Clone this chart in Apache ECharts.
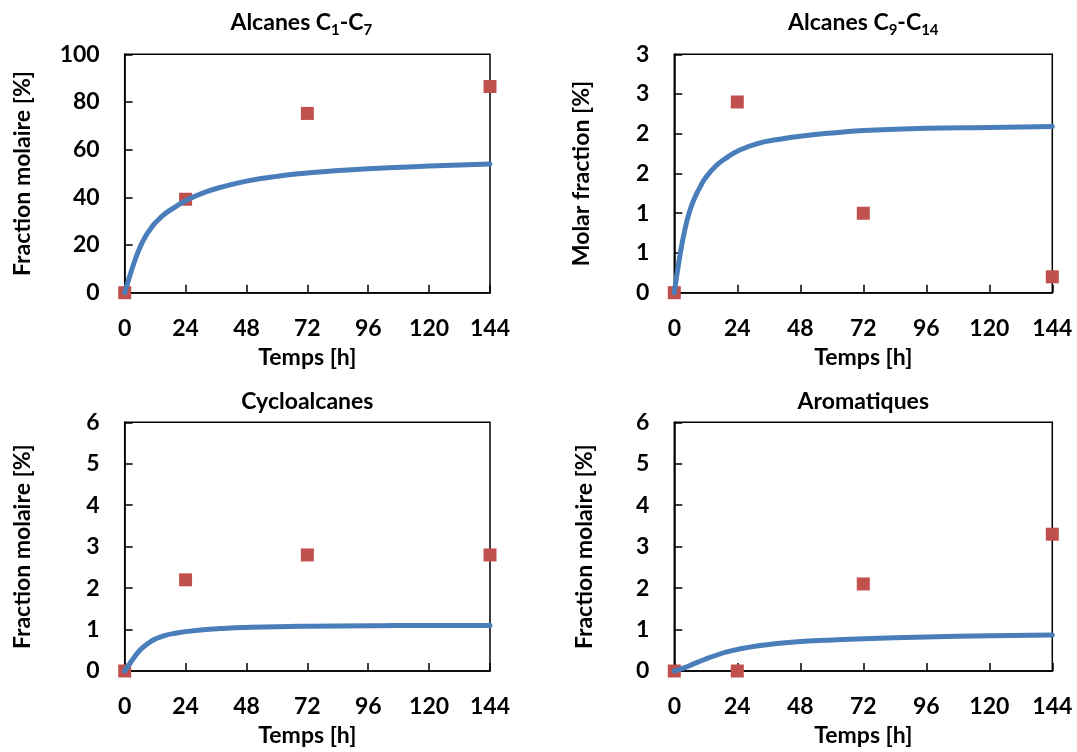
<!DOCTYPE html>
<html>
<head>
<meta charset="utf-8">
<script src="https://cdn.jsdelivr.net/npm/echarts@6/dist/echarts.min.js"></script>
<style>
html,body{margin:0;padding:0;background:#fff;}
#chart{width:1077px;height:752px;}
</style>
</head>
<body>
<div id="chart"></div>
<script>
// ---- Data ----
const xTicks = [0, 24, 48, 72, 96, 120, 144];
const measTimes = [0, 24, 72, 144];

// Panel 1: Alcanes C1-C7
const c1c7Points = [0, 39.2, 75.2, 86.5];
const c1c7CurveT = [0, 2, 4, 6, 8, 10, 12, 16, 20, 24, 32, 40, 48, 60, 72, 96, 120, 144];
const c1c7CurveY = [0, 7, 13.5, 19, 23.3, 26.5, 29.2, 33.2, 36, 38.6, 42.3, 44.8, 46.8, 48.8, 50.2, 52, 53.1, 54];

// Panel 2: Alcanes C9-C14
const c9c14Points = [0, 2.4, 1.0, 0.2];
const c9c14CurveT = [0, 2, 4, 6, 8, 10, 12, 16, 20, 24, 32, 40, 48, 60, 72, 96, 120, 144];
const c9c14CurveY = [0, 0.44, 0.79, 1.04, 1.21, 1.34, 1.45, 1.6, 1.7, 1.78, 1.88, 1.93, 1.97, 2.01, 2.04, 2.07, 2.08, 2.09];
const c9c14YLabels = ['0', '1', '1', '2', '2', '3', '3'];

// Panel 3: Cycloalcanes
const cycloPoints = [0, 2.2, 2.8, 2.8];
const cycloCurveT = [0, 2, 4, 6, 8, 10, 12, 16, 20, 24, 32, 40, 48, 60, 72, 96, 120, 144];
const cycloCurveY = [0, 0.18, 0.35, 0.5, 0.61, 0.7, 0.77, 0.86, 0.91, 0.95, 1.0, 1.03, 1.05, 1.07, 1.08, 1.09, 1.1, 1.1];

// Panel 4: Aromatiques
const aroPoints = [0, 0, 2.1, 3.3];
const aroCurveT = [0, 4, 8, 12, 16, 20, 24, 32, 40, 48, 60, 72, 96, 120, 144];
const aroCurveY = [0, 0.08, 0.19, 0.29, 0.38, 0.46, 0.52, 0.61, 0.67, 0.71, 0.75, 0.78, 0.82, 0.85, 0.87];

// ---- Style ----
const FONT = 'Lato';
const FS = 23;
const RED = '#C0504D';
const BLUE = '#4A7EBB';

const grids = [
  {left: 124.7, top: 54.3, width: 365.3, height: 238.4},
  {left: 674.3, top: 54.3, width: 378, height: 238.4},
  {left: 124.7, top: 422.3, width: 365.3, height: 248.7},
  {left: 674.3, top: 422.3, width: 378, height: 248.7}
];

const titles = ['Alcanes C{sub|1}-C{sub|7}', 'Alcanes C{sub|9}-C{sub|14}', 'Cycloalcanes', 'Aromatiques'];
const yNames = ['Fraction molaire [%]', 'Molar fraction [%]', 'Fraction molaire [%]', 'Fraction molaire [%]'];
const yNameGaps = [91, 81, 91, 78];
const yMax = [100, 3, 6, 6];
const yInterval = [20, 0.5, 1, 1];
const titleTops = [8, 8, 387, 387];

function zip(a, b) { return a.map((v, i) => [v, b[i]]); }

const lineStyleAxis = {color: '#000', width: 1.5};
const labelStyle = {color: '#000', fontFamily: FONT, fontWeight: 'bold', fontSize: FS};

const option = {
  animation: false,
  backgroundColor: '#fff',
  title: titles.map((t, i) => ({
    text: t,
    left: grids[i].left + grids[i].width / 2 - (i === 0 ? 6 : 0),
    top: titleTops[i],
    textAlign: 'center',
    padding: 0,
    textStyle: {
      color: '#000', fontFamily: FONT, fontWeight: 'bold', fontSize: FS, lineHeight: 30,
      rich: {sub: {fontFamily: FONT, fontWeight: 'bold', fontSize: 15, verticalAlign: 'bottom', color: '#000'}}
    }
  })),
  grid: grids.map(g => Object.assign({show: true, borderColor: '#000', borderWidth: 1.5, backgroundColor: 'transparent'}, g)),
  xAxis: grids.map((g, i) => ({
    gridIndex: i, type: 'value', min: 0, max: 144, interval: 24,
    axisLine: {show: true, lineStyle: lineStyleAxis},
    axisTick: {show: true, inside: true, length: 8, lineStyle: lineStyleAxis},
    axisLabel: Object.assign({margin: 24, formatter: v => String(xTicks[Math.round(v / 24)])}, labelStyle),
    splitLine: {show: false},
    name: 'Temps [h]', nameLocation: 'middle', nameGap: 53,
    nameTextStyle: labelStyle
  })),
  yAxis: grids.map((g, i) => ({
    gridIndex: i, type: 'value', min: 0, max: yMax[i], interval: yInterval[i],
    axisLine: {show: true, lineStyle: lineStyleAxis},
    axisTick: {show: true, inside: true, length: 8, lineStyle: lineStyleAxis},
    axisLabel: Object.assign({margin: 25, formatter: (v) => i === 1 ? c9c14YLabels[Math.round(v / 0.5)] : String(v)}, labelStyle),
    splitLine: {show: false},
    name: yNames[i], nameLocation: 'middle', nameGap: yNameGaps[i], nameRotate: 90,
    nameTextStyle: labelStyle
  })),
  series: []
};

const pointsSets = [c1c7Points, c9c14Points, cycloPoints, aroPoints];
const curveSets = [[c1c7CurveT, c1c7CurveY], [c9c14CurveT, c9c14CurveY], [cycloCurveT, cycloCurveY], [aroCurveT, aroCurveY]];

for (let i = 0; i < 4; i++) {
  option.series.push({
    type: 'scatter', xAxisIndex: i, yAxisIndex: i,
    data: zip(measTimes, pointsSets[i]),
    symbol: 'rect', symbolSize: 13,
    itemStyle: {color: RED, opacity: 1},
    clip: false, z: 2
  });
  option.series.push({
    type: 'line', xAxisIndex: i, yAxisIndex: i,
    data: zip(curveSets[i][0], curveSets[i][1]),
    showSymbol: false, symbol: 'none',
    smooth: 0.5,
    lineStyle: {color: BLUE, width: 5, cap: 'round', join: 'round'},
    clip: false, z: 3
  });
}

const chart = echarts.init(document.getElementById('chart'), null, {renderer: 'canvas'});
chart.setOption(option);
</script>
</body>
</html>
